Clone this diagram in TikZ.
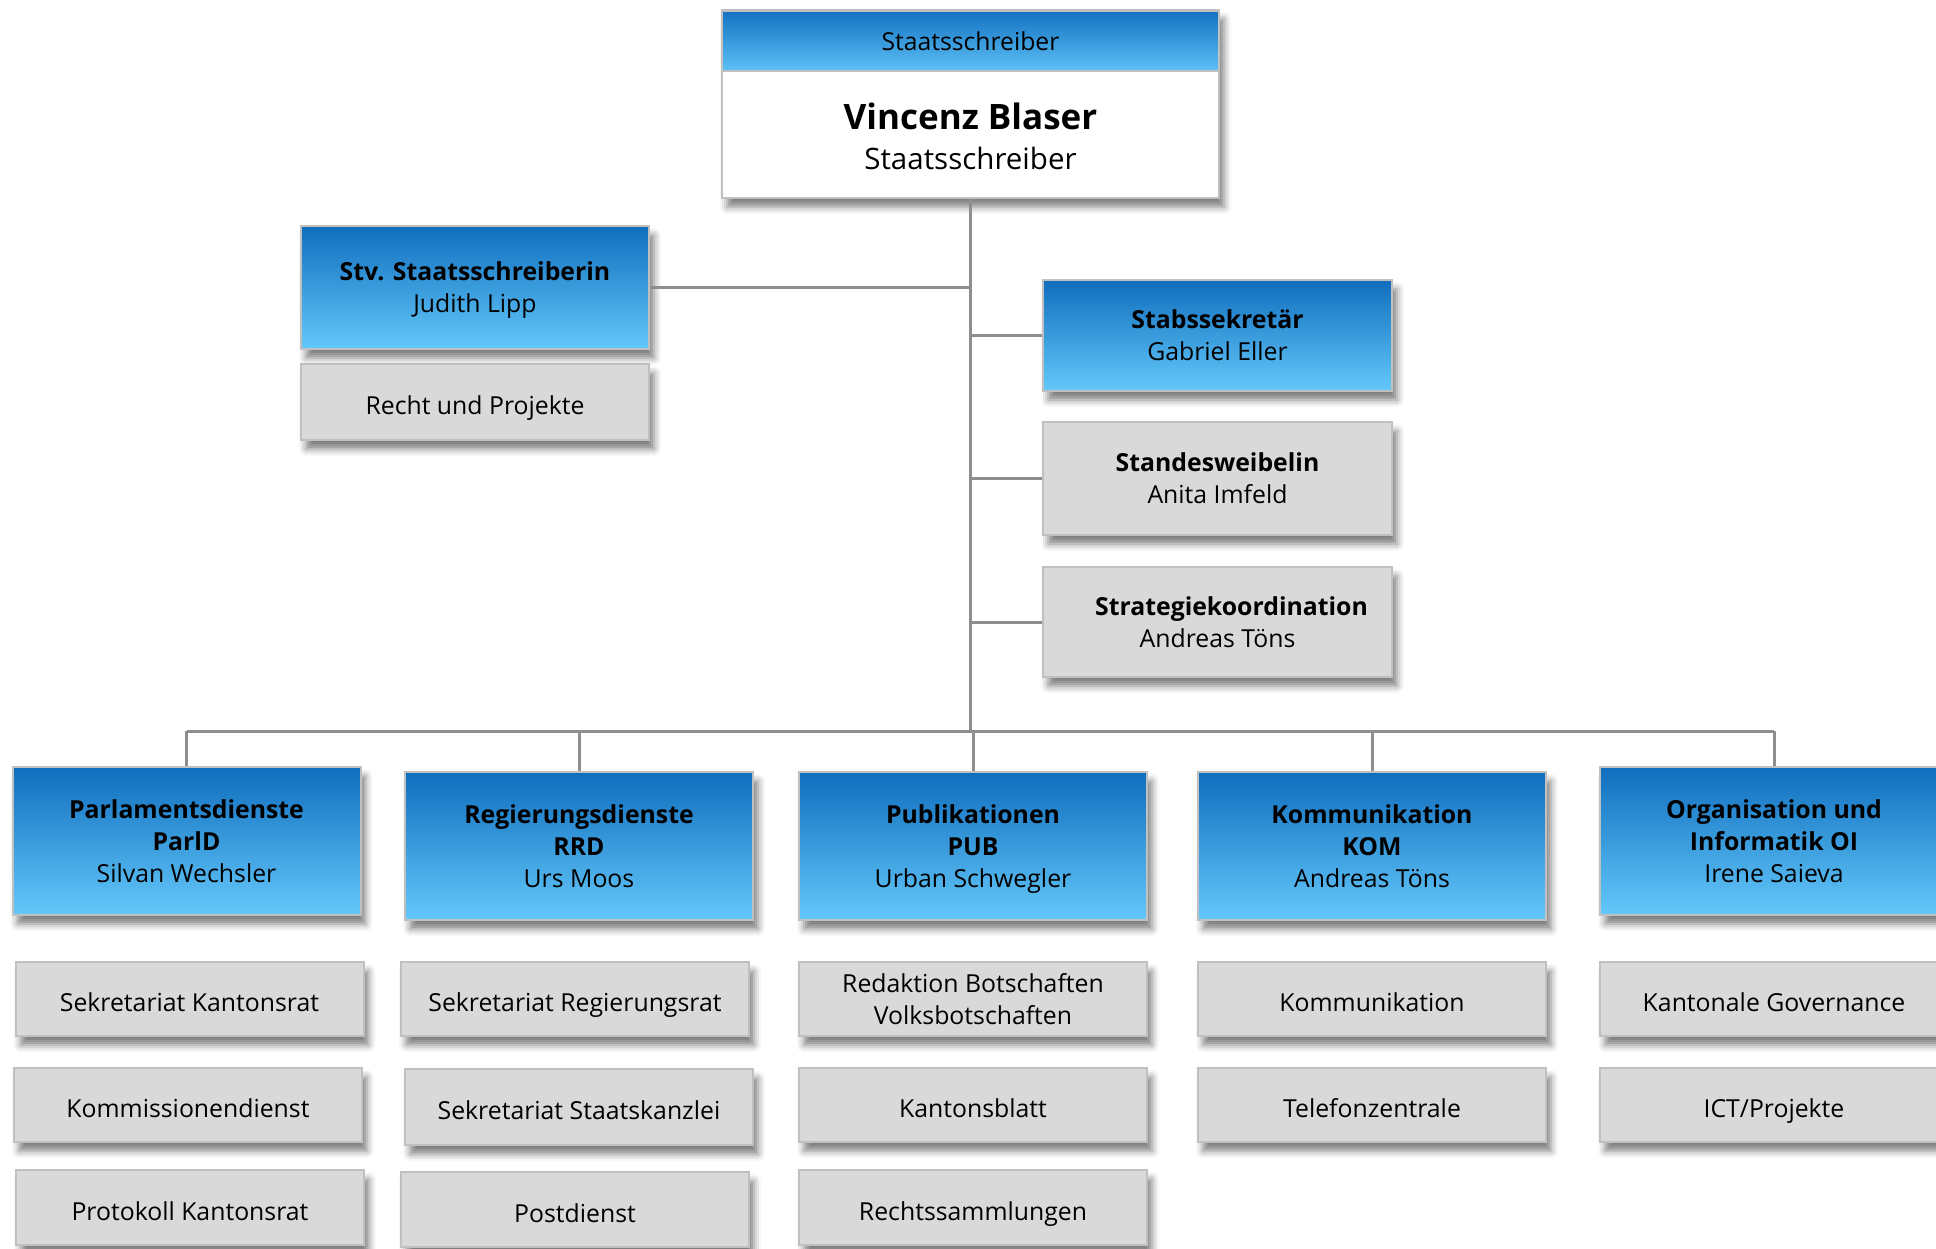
\documentclass[tikz,border=0pt]{standalone}
\usepackage{fontspec}
\setmainfont{Open Sans}
\usetikzlibrary{shadows.blur}
\definecolor{bluetop}{HTML}{106EBE}
\definecolor{bluebot}{HTML}{64C8FA}
\definecolor{hdrtop}{HTML}{1472C2}
\definecolor{hdrbot}{HTML}{5DC0F5}
\definecolor{boxgrey}{HTML}{D9D9D9}
\definecolor{boxborder}{HTML}{C0C0C0}
\definecolor{linegrey}{HTML}{8E8E8E}
\newcommand\mystrut{\vrule height 0pt depth 7pt width 0pt\relax}
\newcommand\mytopstrut{\vrule height 32pt depth 0pt width 0pt\relax}
\tikzset{
  unit/.style={rectangle, draw=boxborder, line width=2pt, minimum width=348pt,
    align=center, inner sep=0pt, font=\fontsize{24.8}{32}\selectfont,
    execute at begin node=\mytopstrut, execute at end node=\mystrut,
    blur shadow={shadow xshift=5pt, shadow yshift=-9pt, shadow blur radius=7pt, shadow opacity=50}},
  bluebox/.style={unit, top color=bluetop, bottom color=bluebot},
  greybox/.style={unit, fill=boxgrey},
  multi/.style={text depth=-5pt},
  conn/.style={draw=linegrey, line width=3pt},
}
\begin{document}
\begin{tikzpicture}[x=1pt, y=-1pt]
\useasboundingbox (0,0) rectangle (1936,1248);
\clip (0,0) rectangle (1936,1248);
% top box
\node[rectangle, draw=boxborder, line width=2pt, fill=white, minimum width=497pt, minimum height=188pt,
  blur shadow={shadow xshift=5pt, shadow yshift=-9pt, shadow blur radius=7pt, shadow opacity=50}] (top) at (970.5,104) {};
\node[rectangle, draw=boxborder, line width=2pt, top color=hdrtop, bottom color=hdrbot,
  minimum width=497pt, minimum height=60pt, inner sep=0pt, font=\fontsize{24.7}{30}\selectfont] (hdr) at (970.5,41) {Staatsschreiber};
\node[align=center, inner sep=0pt, font=\fontsize{29.5}{40}\selectfont] (topname) at (970.5,136.5)
  {\fontsize{35}{40}\selectfont\textbf{Vincenz Blaser}\\Staatsschreiber};
% staff
\node[bluebox, text depth=0pt, minimum height=123pt] (stv) at (475,287.5) {\textbf{Stv. Staatsschreiberin}\\Judith Lipp};
\node[greybox, minimum height=76pt] (recht) at (475,402) {Recht und Projekte};
\node[bluebox, multi, minimum width=349pt, minimum height=111pt] (stab) at (1217.5,335.5) {\textbf{Stabssekretär}\\Gabriel Eller};
\node[greybox, multi, minimum width=349pt, minimum height=113pt] (standes) at (1217.5,478.5) {\textbf{Standesweibelin}\\Anita Imfeld};
\node[greybox, multi, minimum width=349pt, minimum height=110pt] (strat) at (1217.5,622) {\hspace*{28pt}\textbf{Strategiekoordination}\\Andreas Töns};
% departments
\node[bluebox, multi, minimum height=148pt] (parl) at (186.5,841) {\textbf{Parlamentsdienste}\\\textbf{ParlD}\\Silvan Wechsler};
\node[bluebox, multi, minimum height=148pt] (rrd) at (579,846) {\textbf{Regierungsdienste}\\\textbf{RRD}\\Urs Moos};
\node[bluebox, multi, minimum height=148pt] (pub) at (973,846) {\textbf{Publikationen}\\\textbf{PUB}\\Urban Schwegler};
\node[bluebox, multi, minimum height=148pt] (kom) at (1372,846) {\textbf{Kommunikation}\\\textbf{KOM}\\Andreas Töns};
\node[bluebox, multi, minimum height=148pt] (oi) at (1774,841) {\textbf{Organisation und}\\\textbf{Informatik OI}\\Irene Saieva};
% sub units
\node[greybox, minimum height=74pt] (sk) at (189.5,999) {Sekretariat Kantonsrat};
\node[greybox, minimum height=74pt] (kd) at (188,1105) {Kommissionendienst};
\node[greybox, minimum height=75pt] (pk) at (190,1207.5) {Protokoll Kantonsrat};
\node[greybox, minimum height=74pt] (sr) at (575,999) {Sekretariat Regierungsrat};
\node[greybox, minimum height=76pt] (ss) at (579,1107) {Sekretariat Staatskanzlei};
\node[greybox, minimum height=75pt] (pd) at (575,1209.5) {Postdienst};
\node[greybox, multi, minimum height=74pt] (rb) at (973,999) {Redaktion Botschaften\\Volksbotschaften};
\node[greybox, minimum height=74pt] (kb) at (973,1105) {Kantonsblatt};
\node[greybox, minimum height=75pt] (rs) at (973,1207.5) {Rechtssammlungen};
\node[greybox, minimum height=74pt] (ko) at (1372,999) {Kommunikation};
\node[greybox, minimum height=74pt] (tz) at (1372,1105) {Telefonzentrale};
\node[greybox, minimum height=74pt] (kg) at (1774,999) {Kantonale Governance};
\node[greybox, minimum height=74pt] (ict) at (1774,1105) {ICT/Projekte};
% connectors
\coordinate (bus) at (970.5,731);
\draw[conn] (top.south) -- (bus);
\draw[conn] (parl.north |- bus) -- (oi.north |- bus);
\foreach \n in {parl,rrd,pub,kom,oi} \draw[conn] (\n.north |- bus) -- (\n.north);
\draw[conn] (stv.east) -- (stv.east -| bus);
\foreach \n in {stab,standes,strat} \draw[conn] (\n.west -| bus) -- (\n.west);
\end{tikzpicture}
\end{document}
